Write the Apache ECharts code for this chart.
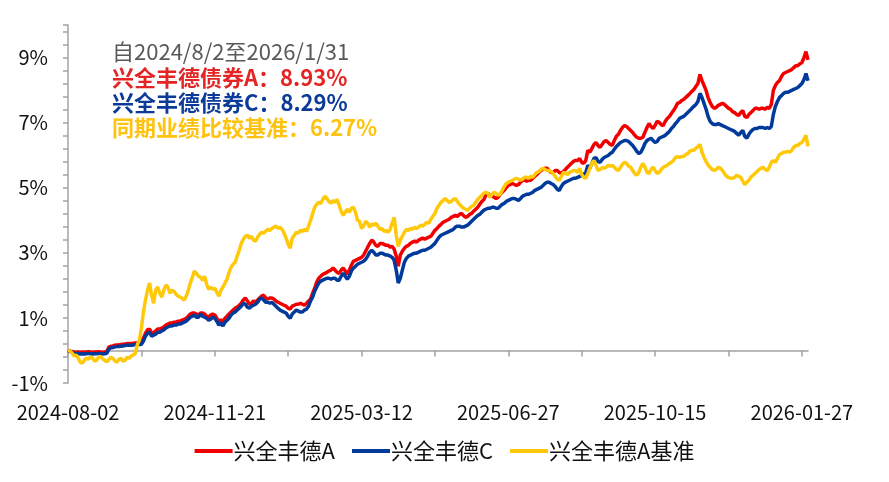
<!DOCTYPE html>
<html><head><meta charset="utf-8">
<script src="https://cdn.jsdelivr.net/npm/echarts@6/dist/echarts.min.js"></script>
<style>html,body{margin:0;padding:0;background:#fff}#c{width:889px;height:482px}</style>
</head><body><div id="c"></div>
<script>
// Trading calendar (weekdays minus exchange holidays)
const holidays = ['2024-09-16','2024-09-17','2024-10-01','2024-10-02','2024-10-03','2024-10-04','2024-10-07',
  '2025-01-01','2025-01-28','2025-01-29','2025-01-30','2025-01-31','2025-02-03','2025-02-04','2025-04-04',
  '2025-05-01','2025-05-02','2025-05-05','2025-06-02','2025-10-01','2025-10-02','2025-10-03','2025-10-06',
  '2025-10-07','2025-10-08','2026-01-01','2026-01-02'];
const startDate = [2024, 7, 2];
const endDate = [2026, 0, 30];
function pad(n){return n<10?'0'+n:''+n;}
function buildDays(){
  const out=[]; let t=Date.UTC(startDate[0],startDate[1],startDate[2]);
  const end=Date.UTC(endDate[0],endDate[1],endDate[2]);
  while(t<=end){const d=new Date(t);const wd=d.getUTCDay();
    const s=d.getUTCFullYear()+'-'+pad(d.getUTCMonth()+1)+'-'+pad(d.getUTCDate());
    if(wd!==0&&wd!==6&&holidays.indexOf(s)<0) out.push(s);
    t+=86400000;}
  return out;
}
const categories = buildDays();

const seriesNames = ['兴全丰德A','兴全丰德C','兴全丰德A基准'];
const noteLines = ['自2024/8/2至2026/1/31','兴全丰德债券A：8.93%','兴全丰德债券C：8.29%','同期业绩比较基准：6.27%'];
const yLabelValues = [-1,1,3,5,7,9];

const fundA = [
0.00,-0.02,-0.03,-0.05,-0.06,-0.05,-0.06,-0.05,-0.06,-0.05,
-0.04,-0.05,-0.06,-0.05,-0.05,-0.04,-0.05,-0.06,-0.05,-0.04,
0.10,0.13,0.14,0.16,0.17,0.17,0.18,0.19,0.20,0.21,
0.21,0.21,0.22,0.23,0.23,0.23,0.25,0.38,0.53,0.63,
0.66,0.53,0.56,0.60,0.66,0.66,0.69,0.72,0.78,0.81,
0.84,0.84,0.87,0.87,0.90,0.90,0.93,0.96,0.99,1.05,
1.12,1.15,1.15,1.12,1.09,1.15,1.15,1.12,1.05,1.02,
1.09,1.12,1.09,0.99,0.90,0.93,0.90,0.99,1.05,1.12,
1.18,1.24,1.30,1.33,1.39,1.45,1.55,1.61,1.52,1.42,
1.45,1.52,1.48,1.55,1.61,1.67,1.70,1.61,1.58,1.61,
1.61,1.58,1.52,1.48,1.45,1.42,1.39,1.36,1.30,1.27,
1.36,1.39,1.42,1.42,1.45,1.42,1.39,1.45,1.52,1.58,
1.76,1.91,2.10,2.22,2.28,2.34,2.37,2.40,2.44,2.47,
2.53,2.47,2.40,2.37,2.47,2.53,2.44,2.34,2.47,2.62,
2.74,2.77,2.80,2.83,2.86,2.93,3.05,3.17,3.29,3.39,
3.33,3.23,3.20,3.29,3.29,3.26,3.23,3.23,3.17,3.20,
3.11,2.90,2.59,2.93,3.05,3.14,3.20,3.23,3.29,3.33,
3.36,3.33,3.39,3.42,3.45,3.42,3.45,3.48,3.51,3.60,
3.69,3.75,3.82,3.88,3.94,3.97,4.00,4.03,4.09,4.12,
4.15,4.12,4.18,4.21,4.15,4.09,4.12,4.18,4.21,4.28,
4.34,4.40,4.49,4.58,4.64,4.77,4.83,4.77,4.74,4.71,
4.67,4.71,4.80,4.86,4.92,5.01,5.07,5.10,5.13,5.10,
5.07,5.10,5.17,5.23,5.23,5.20,5.23,5.23,5.29,5.35,
5.41,5.47,5.53,5.56,5.60,5.60,5.53,5.47,5.47,5.53,
5.53,5.47,5.44,5.50,5.56,5.63,5.69,5.75,5.81,5.84,
5.84,5.90,5.78,5.75,5.84,6.15,6.09,6.21,6.33,6.39,
6.30,6.24,6.33,6.42,6.45,6.39,6.33,6.30,6.45,6.58,
6.64,6.76,6.85,6.91,6.88,6.82,6.76,6.70,6.61,6.55,
6.52,6.52,6.55,6.70,6.85,6.97,6.88,6.82,6.91,7.04,
7.01,6.94,6.91,7.04,7.13,7.19,7.28,7.37,7.47,7.59,
7.62,7.68,7.71,7.77,7.83,7.89,7.96,8.02,8.11,8.20,
8.48,8.29,8.14,7.99,7.77,7.62,7.50,7.44,7.47,7.53,
7.56,7.59,7.56,7.50,7.44,7.41,7.34,7.31,7.25,7.22,
7.31,7.37,7.19,7.16,7.25,7.31,7.37,7.44,7.44,7.41,
7.44,7.44,7.41,7.47,7.44,7.56,7.99,8.14,8.23,8.29,
8.42,8.51,8.54,8.57,8.60,8.63,8.69,8.75,8.75,8.81,
8.84,9.00,9.18,8.93];

const fundC = [
0.00,-0.03,-0.06,-0.09,-0.10,-0.09,-0.11,-0.10,-0.11,-0.10,
-0.09,-0.10,-0.11,-0.10,-0.10,-0.09,-0.10,-0.11,-0.10,-0.09,
0.04,0.08,0.09,0.11,0.12,0.12,0.13,0.14,0.15,0.16,
0.16,0.16,0.17,0.18,0.18,0.18,0.19,0.29,0.44,0.53,
0.56,0.44,0.47,0.50,0.56,0.56,0.60,0.63,0.69,0.72,
0.75,0.75,0.78,0.78,0.81,0.81,0.84,0.87,0.90,0.96,
1.02,1.05,1.09,1.02,1.02,1.12,1.05,1.02,0.99,0.93,
0.96,1.02,0.99,0.90,0.78,0.84,0.75,0.87,0.93,0.99,
1.09,1.15,1.18,1.24,1.30,1.36,1.45,1.42,1.33,1.30,
1.36,1.39,1.42,1.48,1.58,1.61,1.55,1.48,1.48,1.45,
1.48,1.42,1.36,1.30,1.24,1.21,1.18,1.15,1.05,0.99,
1.12,1.18,1.24,1.21,1.18,1.18,1.24,1.27,1.36,1.52,
1.64,1.82,1.95,2.07,2.13,2.16,2.19,2.22,2.22,2.19,
2.22,2.22,2.16,2.16,2.28,2.37,2.28,2.19,2.28,2.44,
2.53,2.59,2.65,2.68,2.71,2.74,2.80,2.90,3.02,3.08,
3.02,2.93,2.93,2.99,2.99,2.96,2.93,2.93,2.90,2.86,
2.77,2.47,2.07,2.22,2.47,2.71,2.83,2.90,2.93,2.96,
2.99,2.99,3.02,3.05,3.08,3.08,3.11,3.14,3.17,3.23,
3.29,3.39,3.48,3.54,3.57,3.60,3.63,3.66,3.69,3.72,
3.79,3.82,3.82,3.79,3.79,3.82,3.85,3.91,3.97,4.03,
4.09,4.15,4.18,4.25,4.31,4.34,4.37,4.37,4.40,4.40,
4.37,4.37,4.43,4.49,4.52,4.58,4.61,4.64,4.67,4.67,
4.64,4.61,4.67,4.74,4.77,4.80,4.80,4.83,4.86,4.92,
4.95,4.98,5.01,5.07,5.13,5.17,5.17,5.13,5.10,5.04,
4.95,4.92,5.04,5.13,5.17,5.20,5.23,5.26,5.29,5.29,
5.32,5.35,5.38,5.41,5.47,5.69,5.60,5.75,5.90,5.93,
5.81,5.78,5.87,5.93,5.96,5.99,6.05,6.09,6.18,6.27,
6.33,6.39,6.42,6.45,6.45,6.42,6.36,6.30,6.21,6.12,
6.05,6.09,6.21,6.36,6.45,6.49,6.52,6.45,6.39,6.42,
6.52,6.55,6.58,6.61,6.67,6.73,6.82,6.88,6.97,7.04,
7.13,7.16,7.19,7.25,7.31,7.37,7.44,7.50,7.56,7.65,
7.90,7.77,7.59,7.41,7.19,7.04,6.97,6.94,6.94,6.97,
6.94,6.91,6.88,6.85,6.82,6.79,6.76,6.73,6.67,6.61,
6.70,6.76,6.58,6.52,6.64,6.73,6.79,6.82,6.82,6.85,
6.85,6.85,6.82,6.85,6.82,6.88,7.25,7.50,7.65,7.77,
7.83,7.90,7.93,7.93,7.96,7.99,8.02,8.05,8.08,8.14,
8.20,8.32,8.51,8.29];

const benchmark = [
0.00,-0.02,-0.08,-0.17,-0.14,-0.23,-0.36,-0.39,-0.30,-0.24,
-0.27,-0.20,-0.23,-0.33,-0.30,-0.21,-0.18,-0.26,-0.30,-0.35,
-0.29,-0.21,-0.24,-0.32,-0.36,-0.27,-0.24,-0.33,-0.30,-0.21,
-0.24,-0.17,-0.14,-0.09,0.17,0.32,0.69,1.18,1.55,1.85,
2.07,1.70,1.45,1.85,1.95,1.76,1.64,1.85,2.01,1.95,
1.76,1.85,1.82,1.73,1.67,1.64,1.60,1.55,1.67,1.85,
2.07,2.25,2.44,2.37,2.28,2.25,2.16,2.28,2.04,1.88,
1.94,1.88,1.91,1.79,1.67,1.85,1.95,2.07,2.19,2.40,
2.56,2.65,2.71,2.90,3.08,3.29,3.42,3.51,3.54,3.45,
3.51,3.39,3.36,3.48,3.57,3.63,3.60,3.66,3.72,3.69,
3.75,3.79,3.82,3.75,3.79,3.72,3.60,3.45,3.26,3.14,
3.45,3.54,3.63,3.60,3.69,3.66,3.72,3.66,3.82,4.00,
4.21,4.40,4.49,4.55,4.52,4.64,4.74,4.67,4.58,4.52,
4.61,4.55,4.64,4.46,4.28,4.15,4.25,4.34,4.25,4.37,
4.40,4.25,4.00,3.97,3.75,3.82,3.97,3.91,3.79,3.88,
3.85,3.91,3.82,3.72,3.75,3.66,3.69,3.63,3.72,3.91,
4.09,3.54,3.20,3.39,3.51,3.63,3.72,3.69,3.75,3.72,
3.79,3.75,3.79,3.85,3.82,3.88,3.94,3.91,4.03,4.12,
4.21,4.37,4.46,4.55,4.61,4.67,4.61,4.55,4.58,4.64,
4.67,4.58,4.49,4.43,4.37,4.34,4.31,4.37,4.43,4.46,
4.55,4.64,4.71,4.77,4.83,4.86,4.83,4.71,4.80,4.86,
4.83,4.77,4.80,4.92,5.04,5.13,5.17,5.20,5.23,5.26,
5.29,5.26,5.23,5.26,5.32,5.32,5.29,5.35,5.32,5.41,
5.47,5.50,5.56,5.60,5.56,5.53,5.53,5.50,5.44,5.35,
5.26,5.23,5.35,5.47,5.44,5.41,5.47,5.50,5.53,5.53,
5.47,5.60,5.41,5.32,5.29,5.44,5.60,5.75,5.84,5.69,
5.53,5.56,5.62,5.60,5.63,5.69,5.66,5.69,5.63,5.56,
5.53,5.63,5.72,5.78,5.75,5.66,5.63,5.53,5.44,5.38,
5.47,5.63,5.75,5.63,5.47,5.44,5.56,5.63,5.53,5.44,
5.47,5.56,5.63,5.66,5.69,5.75,5.78,5.84,5.93,5.96,
5.93,5.96,5.96,6.02,6.05,6.12,6.15,6.15,6.21,6.27,
6.33,6.09,5.93,5.81,5.69,5.63,5.56,5.53,5.56,5.63,
5.60,5.53,5.44,5.35,5.32,5.29,5.29,5.32,5.38,5.35,
5.32,5.20,5.10,5.17,5.23,5.32,5.38,5.44,5.50,5.56,
5.60,5.63,5.56,5.53,5.63,5.78,5.84,5.78,5.90,6.02,
6.05,6.09,6.09,6.12,6.09,6.15,6.24,6.30,6.30,6.36,
6.39,6.49,6.61,6.27];

const FONT = "'Noto Sans CJK SC','Noto Sans',sans-serif";
const AXIS_COLOR = '#A3A3A3';
const lineColors = ['#F20000','#003A9B','#FFC90A'];
const noteColors = ['#595959','#E42525','#0B3A98','#FFC20E'];
const noteY = [52,78,103,128];

const chart = echarts.init(document.getElementById('c'), null, {renderer:'canvas'});
chart.setOption({
  animation:false,
  backgroundColor:'#fff',
  grid:{left:68, right:81, top:25, bottom:99},
  xAxis:{type:'category', data:categories, boundaryGap:false,
    axisLine:{onZero:true, lineStyle:{color:AXIS_COLOR, width:1.5}},
    axisTick:{interval:35, length:6, lineStyle:{color:AXIS_COLOR, width:1.5}},
    axisLabel:{interval:71, margin:19, fontSize:20, color:'#111', fontFamily:FONT},
    splitLine:{show:false}},
  yAxis:{type:'value', min:-1, max:10, interval:0.4,
    axisLine:{show:true, lineStyle:{color:AXIS_COLOR, width:1.5}},
    axisTick:{show:true, length:5, lineStyle:{color:AXIS_COLOR, width:1.5}},
    splitLine:{show:false},
    axisLabel:{margin:20, fontSize:20, color:'#111', fontFamily:FONT,
      formatter:function(v){const r=Math.round(v*10)/10;
        return yLabelValues.some(function(t){return Math.abs(t-r)<1e-6;}) ? r+'%' : '';}}},
  legend:{left:'center', top:435, icon:'rect', itemWidth:38, itemHeight:4, itemGap:17,
    textStyle:{fontSize:22, color:'#111', fontFamily:FONT, padding:[0,0,0,-4]},
    data:seriesNames},
  series:[
    {name:seriesNames[0], type:'line', data:fundA, symbol:'none', lineStyle:{width:3.5, color:lineColors[0]}, itemStyle:{color:lineColors[0]}, z:2},
    {name:seriesNames[1], type:'line', data:fundC, symbol:'none', lineStyle:{width:3.5, color:lineColors[1]}, itemStyle:{color:lineColors[1]}, z:3},
    {name:seriesNames[2], type:'line', data:benchmark, symbol:'none', lineStyle:{width:3.5, color:lineColors[2]}, itemStyle:{color:lineColors[2]}, z:4}
  ],
  graphic: noteLines.map(function(t,i){
    return {type:'text', x:112, y:noteY[i], z:10,
      style:{text:t, fill:noteColors[i], font:(i===0?'normal ':'bold ')+'22px '+FONT, verticalAlign:'middle', align:'left'}};
  })
});
</script>
</body></html>
